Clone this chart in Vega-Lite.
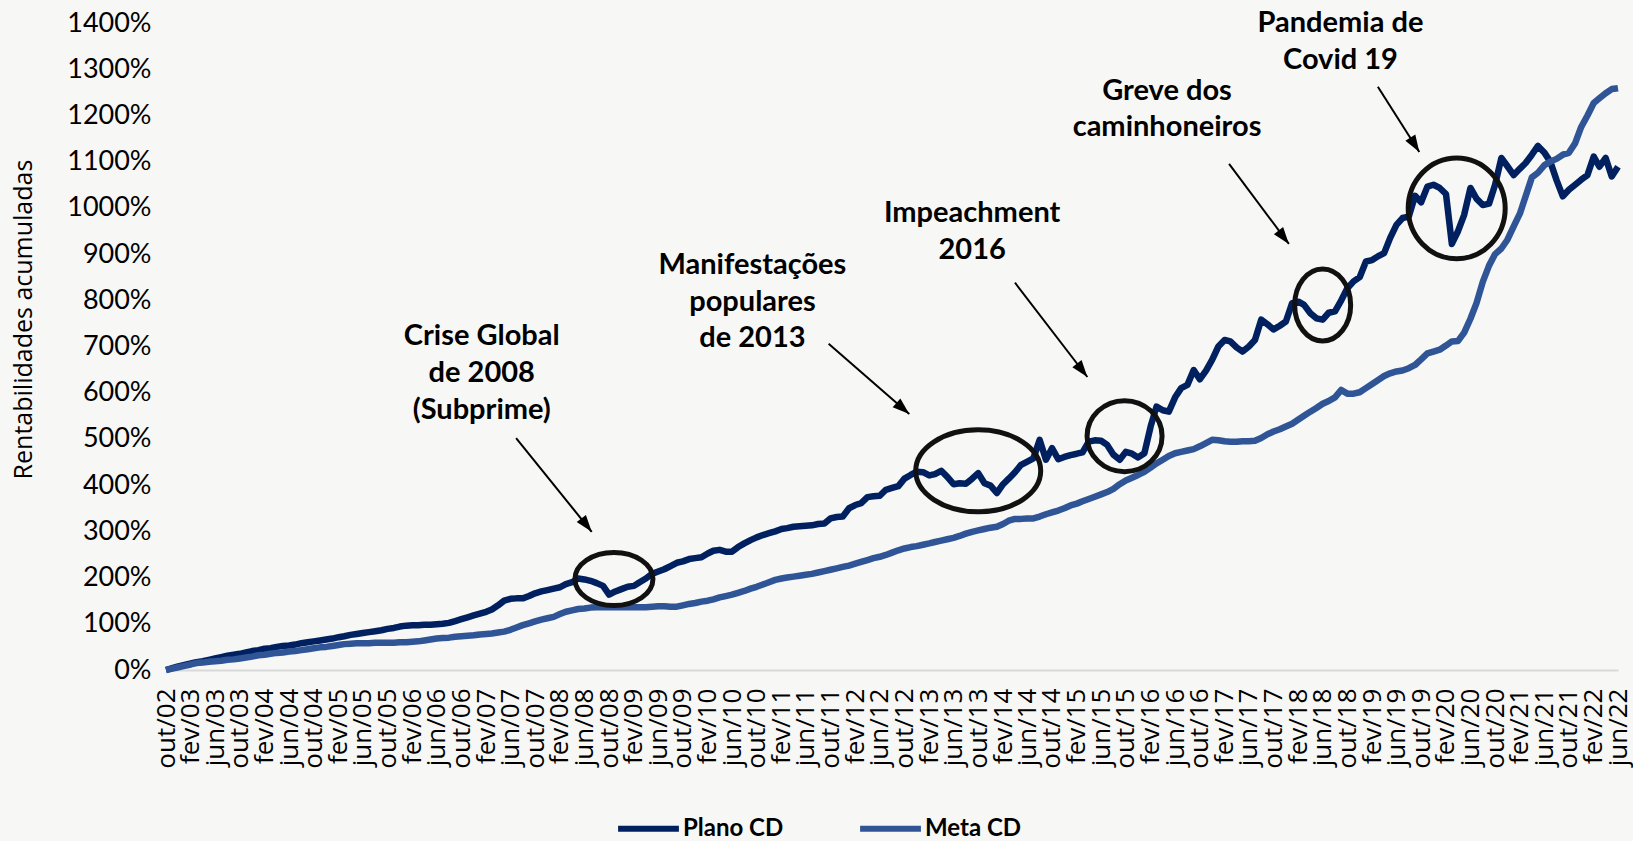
{
"$schema": "https://vega.github.io/schema/vega-lite/v6.json",
"width": 1452, "height": 647,
"autosize": {"type": "none"},
"padding": {"left": 166, "top": 23, "right": 15, "bottom": 171},
"background": "#F7F7F6",
"config": {"view": {"stroke": null}, "font": "Lato", "axis": {"grid": false, "ticks": false}, "axisX": {"labelOverlap": false, "labelFlush": false, "labelBound": false}},
"layer": [
{
"data": {"values": [
{"d":"2002-10","Plano CD":0,"Meta CD":0},{"d":"2002-11","Plano CD":4,"Meta CD":3},{"d":"2002-12","Plano CD":8,"Meta CD":6},
{"d":"2003-01","Plano CD":11,"Meta CD":9},{"d":"2003-02","Plano CD":14,"Meta CD":12},{"d":"2003-03","Plano CD":17,"Meta CD":15},{"d":"2003-04","Plano CD":19,"Meta CD":16},{"d":"2003-05","Plano CD":22,"Meta CD":18},{"d":"2003-06","Plano CD":25,"Meta CD":19},{"d":"2003-07","Plano CD":28,"Meta CD":20},{"d":"2003-08","Plano CD":31,"Meta CD":22},{"d":"2003-09","Plano CD":33,"Meta CD":23},{"d":"2003-10","Plano CD":35,"Meta CD":25},{"d":"2003-11","Plano CD":38,"Meta CD":27},{"d":"2003-12","Plano CD":41,"Meta CD":29},
{"d":"2004-01","Plano CD":43,"Meta CD":32},{"d":"2004-02","Plano CD":46,"Meta CD":33},{"d":"2004-03","Plano CD":47,"Meta CD":35},{"d":"2004-04","Plano CD":50,"Meta CD":37},{"d":"2004-05","Plano CD":52,"Meta CD":38},{"d":"2004-06","Plano CD":53,"Meta CD":40},{"d":"2004-07","Plano CD":55,"Meta CD":41},{"d":"2004-08","Plano CD":58,"Meta CD":43},{"d":"2004-09","Plano CD":60,"Meta CD":45},{"d":"2004-10","Plano CD":62,"Meta CD":47},{"d":"2004-11","Plano CD":64,"Meta CD":49},{"d":"2004-12","Plano CD":66,"Meta CD":50},
{"d":"2005-01","Plano CD":68,"Meta CD":52},{"d":"2005-02","Plano CD":71,"Meta CD":54},{"d":"2005-03","Plano CD":73,"Meta CD":56},{"d":"2005-04","Plano CD":76,"Meta CD":57},{"d":"2005-05","Plano CD":78,"Meta CD":58},{"d":"2005-06","Plano CD":80,"Meta CD":58},{"d":"2005-07","Plano CD":82,"Meta CD":58},{"d":"2005-08","Plano CD":84,"Meta CD":59},{"d":"2005-09","Plano CD":86,"Meta CD":59},{"d":"2005-10","Plano CD":89,"Meta CD":59},{"d":"2005-11","Plano CD":91,"Meta CD":59},{"d":"2005-12","Plano CD":94,"Meta CD":60},
{"d":"2006-01","Plano CD":96,"Meta CD":60},{"d":"2006-02","Plano CD":97,"Meta CD":61},{"d":"2006-03","Plano CD":97,"Meta CD":62},{"d":"2006-04","Plano CD":98,"Meta CD":64},{"d":"2006-05","Plano CD":98,"Meta CD":66},{"d":"2006-06","Plano CD":99,"Meta CD":68},{"d":"2006-07","Plano CD":100,"Meta CD":69},{"d":"2006-08","Plano CD":102,"Meta CD":70},{"d":"2006-09","Plano CD":106,"Meta CD":72},{"d":"2006-10","Plano CD":110,"Meta CD":73},{"d":"2006-11","Plano CD":114,"Meta CD":74},{"d":"2006-12","Plano CD":118,"Meta CD":75},
{"d":"2007-01","Plano CD":122,"Meta CD":77},{"d":"2007-02","Plano CD":126,"Meta CD":78},{"d":"2007-03","Plano CD":131,"Meta CD":79},{"d":"2007-04","Plano CD":140,"Meta CD":81},{"d":"2007-05","Plano CD":150,"Meta CD":83},{"d":"2007-06","Plano CD":154,"Meta CD":87},{"d":"2007-07","Plano CD":155,"Meta CD":92},{"d":"2007-08","Plano CD":155,"Meta CD":97},{"d":"2007-09","Plano CD":160,"Meta CD":101},{"d":"2007-10","Plano CD":166,"Meta CD":105},{"d":"2007-11","Plano CD":170,"Meta CD":109},{"d":"2007-12","Plano CD":173,"Meta CD":112},
{"d":"2008-01","Plano CD":176,"Meta CD":115},{"d":"2008-02","Plano CD":179,"Meta CD":121},{"d":"2008-03","Plano CD":186,"Meta CD":126},{"d":"2008-04","Plano CD":190,"Meta CD":129},{"d":"2008-05","Plano CD":198,"Meta CD":132},{"d":"2008-06","Plano CD":196,"Meta CD":133},{"d":"2008-07","Plano CD":193,"Meta CD":135},{"d":"2008-08","Plano CD":188,"Meta CD":136},{"d":"2008-09","Plano CD":182,"Meta CD":136},{"d":"2008-10","Plano CD":163,"Meta CD":136},{"d":"2008-11","Plano CD":170,"Meta CD":136},{"d":"2008-12","Plano CD":175,"Meta CD":136},
{"d":"2009-01","Plano CD":180,"Meta CD":136},{"d":"2009-02","Plano CD":182,"Meta CD":136},{"d":"2009-03","Plano CD":190,"Meta CD":136},{"d":"2009-04","Plano CD":198,"Meta CD":136},{"d":"2009-05","Plano CD":208,"Meta CD":137},{"d":"2009-06","Plano CD":213,"Meta CD":138},{"d":"2009-07","Plano CD":218,"Meta CD":138},{"d":"2009-08","Plano CD":225,"Meta CD":137},{"d":"2009-09","Plano CD":232,"Meta CD":137},{"d":"2009-10","Plano CD":235,"Meta CD":140},{"d":"2009-11","Plano CD":240,"Meta CD":143},{"d":"2009-12","Plano CD":242,"Meta CD":145},
{"d":"2010-01","Plano CD":244,"Meta CD":148},{"d":"2010-02","Plano CD":252,"Meta CD":150},{"d":"2010-03","Plano CD":258,"Meta CD":153},{"d":"2010-04","Plano CD":260,"Meta CD":157},{"d":"2010-05","Plano CD":256,"Meta CD":160},{"d":"2010-06","Plano CD":256,"Meta CD":163},{"d":"2010-07","Plano CD":266,"Meta CD":167},{"d":"2010-08","Plano CD":274,"Meta CD":171},{"d":"2010-09","Plano CD":281,"Meta CD":176},{"d":"2010-10","Plano CD":287,"Meta CD":180},{"d":"2010-11","Plano CD":292,"Meta CD":185},{"d":"2010-12","Plano CD":296,"Meta CD":190},
{"d":"2011-01","Plano CD":300,"Meta CD":195},{"d":"2011-02","Plano CD":305,"Meta CD":198},{"d":"2011-03","Plano CD":307,"Meta CD":200},{"d":"2011-04","Plano CD":310,"Meta CD":202},{"d":"2011-05","Plano CD":311,"Meta CD":204},{"d":"2011-06","Plano CD":312,"Meta CD":206},{"d":"2011-07","Plano CD":313,"Meta CD":208},{"d":"2011-08","Plano CD":316,"Meta CD":211},{"d":"2011-09","Plano CD":317,"Meta CD":214},{"d":"2011-10","Plano CD":328,"Meta CD":217},{"d":"2011-11","Plano CD":331,"Meta CD":220},{"d":"2011-12","Plano CD":332,"Meta CD":223},
{"d":"2012-01","Plano CD":350,"Meta CD":226},{"d":"2012-02","Plano CD":357,"Meta CD":230},{"d":"2012-03","Plano CD":361,"Meta CD":234},{"d":"2012-04","Plano CD":374,"Meta CD":238},{"d":"2012-05","Plano CD":376,"Meta CD":242},{"d":"2012-06","Plano CD":377,"Meta CD":245},{"d":"2012-07","Plano CD":390,"Meta CD":249},{"d":"2012-08","Plano CD":394,"Meta CD":254},{"d":"2012-09","Plano CD":398,"Meta CD":259},{"d":"2012-10","Plano CD":414,"Meta CD":263},{"d":"2012-11","Plano CD":422,"Meta CD":266},{"d":"2012-12","Plano CD":429,"Meta CD":268},
{"d":"2013-01","Plano CD":428,"Meta CD":271},{"d":"2013-02","Plano CD":421,"Meta CD":274},{"d":"2013-03","Plano CD":424,"Meta CD":277},{"d":"2013-04","Plano CD":431,"Meta CD":280},{"d":"2013-05","Plano CD":418,"Meta CD":283},{"d":"2013-06","Plano CD":402,"Meta CD":286},{"d":"2013-07","Plano CD":404,"Meta CD":290},{"d":"2013-08","Plano CD":403,"Meta CD":295},{"d":"2013-09","Plano CD":414,"Meta CD":299},{"d":"2013-10","Plano CD":426,"Meta CD":302},{"d":"2013-11","Plano CD":404,"Meta CD":305},{"d":"2013-12","Plano CD":399,"Meta CD":308},
{"d":"2014-01","Plano CD":383,"Meta CD":310},{"d":"2014-02","Plano CD":402,"Meta CD":316},{"d":"2014-03","Plano CD":414,"Meta CD":323},{"d":"2014-04","Plano CD":428,"Meta CD":327},{"d":"2014-05","Plano CD":444,"Meta CD":327},{"d":"2014-06","Plano CD":451,"Meta CD":328},{"d":"2014-07","Plano CD":458,"Meta CD":328},{"d":"2014-08","Plano CD":498,"Meta CD":332},{"d":"2014-09","Plano CD":455,"Meta CD":337},{"d":"2014-10","Plano CD":480,"Meta CD":341},{"d":"2014-11","Plano CD":456,"Meta CD":345},{"d":"2014-12","Plano CD":461,"Meta CD":350},
{"d":"2015-01","Plano CD":465,"Meta CD":356},{"d":"2015-02","Plano CD":468,"Meta CD":360},{"d":"2015-03","Plano CD":471,"Meta CD":365},{"d":"2015-04","Plano CD":494,"Meta CD":370},{"d":"2015-05","Plano CD":497,"Meta CD":375},{"d":"2015-06","Plano CD":496,"Meta CD":380},{"d":"2015-07","Plano CD":487,"Meta CD":385},{"d":"2015-08","Plano CD":466,"Meta CD":392},{"d":"2015-09","Plano CD":455,"Meta CD":402},{"d":"2015-10","Plano CD":472,"Meta CD":410},{"d":"2015-11","Plano CD":468,"Meta CD":416},{"d":"2015-12","Plano CD":460,"Meta CD":422},
{"d":"2016-01","Plano CD":469,"Meta CD":429},{"d":"2016-02","Plano CD":527,"Meta CD":438},{"d":"2016-03","Plano CD":570,"Meta CD":447},{"d":"2016-04","Plano CD":562,"Meta CD":455},{"d":"2016-05","Plano CD":559,"Meta CD":463},{"d":"2016-06","Plano CD":590,"Meta CD":469},{"d":"2016-07","Plano CD":610,"Meta CD":472},{"d":"2016-08","Plano CD":617,"Meta CD":475},{"d":"2016-09","Plano CD":649,"Meta CD":478},{"d":"2016-10","Plano CD":629,"Meta CD":484},{"d":"2016-11","Plano CD":648,"Meta CD":491},{"d":"2016-12","Plano CD":671,"Meta CD":498},
{"d":"2017-01","Plano CD":700,"Meta CD":497},{"d":"2017-02","Plano CD":714,"Meta CD":495},{"d":"2017-03","Plano CD":711,"Meta CD":494},{"d":"2017-04","Plano CD":698,"Meta CD":494},{"d":"2017-05","Plano CD":689,"Meta CD":495},{"d":"2017-06","Plano CD":700,"Meta CD":495},{"d":"2017-07","Plano CD":714,"Meta CD":496},{"d":"2017-08","Plano CD":758,"Meta CD":502},{"d":"2017-09","Plano CD":748,"Meta CD":510},{"d":"2017-10","Plano CD":737,"Meta CD":516},{"d":"2017-11","Plano CD":745,"Meta CD":521},{"d":"2017-12","Plano CD":754,"Meta CD":527},
{"d":"2018-01","Plano CD":794,"Meta CD":533},{"d":"2018-02","Plano CD":797,"Meta CD":542},{"d":"2018-03","Plano CD":790,"Meta CD":550},{"d":"2018-04","Plano CD":772,"Meta CD":559},{"d":"2018-05","Plano CD":761,"Meta CD":567},{"d":"2018-06","Plano CD":758,"Meta CD":576},{"d":"2018-07","Plano CD":773,"Meta CD":582},{"d":"2018-08","Plano CD":776,"Meta CD":590},{"d":"2018-09","Plano CD":800,"Meta CD":606},{"d":"2018-10","Plano CD":826,"Meta CD":598},{"d":"2018-11","Plano CD":841,"Meta CD":598},{"d":"2018-12","Plano CD":850,"Meta CD":601},
{"d":"2019-01","Plano CD":884,"Meta CD":610},{"d":"2019-02","Plano CD":887,"Meta CD":619},{"d":"2019-03","Plano CD":895,"Meta CD":627},{"d":"2019-04","Plano CD":902,"Meta CD":636},{"d":"2019-05","Plano CD":935,"Meta CD":642},{"d":"2019-06","Plano CD":963,"Meta CD":646},{"d":"2019-07","Plano CD":978,"Meta CD":648},{"d":"2019-08","Plano CD":981,"Meta CD":653},{"d":"2019-09","Plano CD":1026,"Meta CD":660},{"d":"2019-10","Plano CD":1012,"Meta CD":672},{"d":"2019-11","Plano CD":1046,"Meta CD":685},{"d":"2019-12","Plano CD":1050,"Meta CD":689},
{"d":"2020-01","Plano CD":1043,"Meta CD":693},{"d":"2020-02","Plano CD":1030,"Meta CD":702},{"d":"2020-03","Plano CD":922,"Meta CD":711},{"d":"2020-04","Plano CD":950,"Meta CD":712},{"d":"2020-05","Plano CD":985,"Meta CD":730},{"d":"2020-06","Plano CD":1043,"Meta CD":760},{"d":"2020-07","Plano CD":1020,"Meta CD":794},{"d":"2020-08","Plano CD":1006,"Meta CD":840},{"d":"2020-09","Plano CD":1009,"Meta CD":875},{"d":"2020-10","Plano CD":1050,"Meta CD":900},{"d":"2020-11","Plano CD":1108,"Meta CD":912},{"d":"2020-12","Plano CD":1090,"Meta CD":931},
{"d":"2021-01","Plano CD":1071,"Meta CD":960},{"d":"2021-02","Plano CD":1085,"Meta CD":988},{"d":"2021-03","Plano CD":1097,"Meta CD":1025},{"d":"2021-04","Plano CD":1115,"Meta CD":1066},{"d":"2021-05","Plano CD":1134,"Meta CD":1076},{"d":"2021-06","Plano CD":1120,"Meta CD":1092},{"d":"2021-07","Plano CD":1100,"Meta CD":1100},{"d":"2021-08","Plano CD":1060,"Meta CD":1106},{"d":"2021-09","Plano CD":1025,"Meta CD":1115},{"d":"2021-10","Plano CD":1039,"Meta CD":1119},{"d":"2021-11","Plano CD":1050,"Meta CD":1140},{"d":"2021-12","Plano CD":1061,"Meta CD":1175},
{"d":"2022-01","Plano CD":1071,"Meta CD":1200},{"d":"2022-02","Plano CD":1111,"Meta CD":1227},{"d":"2022-03","Plano CD":1089,"Meta CD":1237},{"d":"2022-04","Plano CD":1108,"Meta CD":1248},{"d":"2022-05","Plano CD":1068,"Meta CD":1257},{"d":"2022-06","Plano CD":1089,"Meta CD":1259}
]},
"transform": [{"fold": ["Plano CD", "Meta CD"], "as": ["serie", "valor"]}],
"mark": {"type": "line", "strokeWidth": 6.5, "strokeJoin": "round"},
"encoding": {
"x": {"field": "d", "type": "temporal",
"scale": {"type": "utc", "nice": false, "domain": [{"year": 2002, "month": 10, "date": 1, "utc": true}, {"year": 2022, "month": 6, "date": 1, "utc": true}]},
"axis": {"title": null, "tickCount": 200, "labelAngle": 270, "labelAlign": "right", "labelBaseline": "middle", "labelFont": "Open Sans", "labelFontSize": 26, "labelColor": "#000000", "labelPadding": 18, "labelOverlap": false, "labelFlush": false, "labelBound": false, "domainColor": "#D9D9D9", "domainWidth": 2, "ticks": false,
"labelExpr": "['jan','fev','mar','abr','mai','jun','jul','ago','set','out','nov','dez'][utcmonth(datum.value)] + '/' + utcFormat(datum.value, '%y')",
"values": [
{"year":2002,"month":10,"date":1,"utc":true},
{"year":2003,"month":2,"date":1,"utc":true},{"year":2003,"month":6,"date":1,"utc":true},{"year":2003,"month":10,"date":1,"utc":true},
{"year":2004,"month":2,"date":1,"utc":true},{"year":2004,"month":6,"date":1,"utc":true},{"year":2004,"month":10,"date":1,"utc":true},
{"year":2005,"month":2,"date":1,"utc":true},{"year":2005,"month":6,"date":1,"utc":true},{"year":2005,"month":10,"date":1,"utc":true},
{"year":2006,"month":2,"date":1,"utc":true},{"year":2006,"month":6,"date":1,"utc":true},{"year":2006,"month":10,"date":1,"utc":true},
{"year":2007,"month":2,"date":1,"utc":true},{"year":2007,"month":6,"date":1,"utc":true},{"year":2007,"month":10,"date":1,"utc":true},
{"year":2008,"month":2,"date":1,"utc":true},{"year":2008,"month":6,"date":1,"utc":true},{"year":2008,"month":10,"date":1,"utc":true},
{"year":2009,"month":2,"date":1,"utc":true},{"year":2009,"month":6,"date":1,"utc":true},{"year":2009,"month":10,"date":1,"utc":true},
{"year":2010,"month":2,"date":1,"utc":true},{"year":2010,"month":6,"date":1,"utc":true},{"year":2010,"month":10,"date":1,"utc":true},
{"year":2011,"month":2,"date":1,"utc":true},{"year":2011,"month":6,"date":1,"utc":true},{"year":2011,"month":10,"date":1,"utc":true},
{"year":2012,"month":2,"date":1,"utc":true},{"year":2012,"month":6,"date":1,"utc":true},{"year":2012,"month":10,"date":1,"utc":true},
{"year":2013,"month":2,"date":1,"utc":true},{"year":2013,"month":6,"date":1,"utc":true},{"year":2013,"month":10,"date":1,"utc":true},
{"year":2014,"month":2,"date":1,"utc":true},{"year":2014,"month":6,"date":1,"utc":true},{"year":2014,"month":10,"date":1,"utc":true},
{"year":2015,"month":2,"date":1,"utc":true},{"year":2015,"month":6,"date":1,"utc":true},{"year":2015,"month":10,"date":1,"utc":true},
{"year":2016,"month":2,"date":1,"utc":true},{"year":2016,"month":6,"date":1,"utc":true},{"year":2016,"month":10,"date":1,"utc":true},
{"year":2017,"month":2,"date":1,"utc":true},{"year":2017,"month":6,"date":1,"utc":true},{"year":2017,"month":10,"date":1,"utc":true},
{"year":2018,"month":2,"date":1,"utc":true},{"year":2018,"month":6,"date":1,"utc":true},{"year":2018,"month":10,"date":1,"utc":true},
{"year":2019,"month":2,"date":1,"utc":true},{"year":2019,"month":6,"date":1,"utc":true},{"year":2019,"month":10,"date":1,"utc":true},
{"year":2020,"month":2,"date":1,"utc":true},{"year":2020,"month":6,"date":1,"utc":true},{"year":2020,"month":10,"date":1,"utc":true},
{"year":2021,"month":2,"date":1,"utc":true},{"year":2021,"month":6,"date":1,"utc":true},{"year":2021,"month":10,"date":1,"utc":true},
{"year":2022,"month":2,"date":1,"utc":true},{"year":2022,"month":6,"date":1,"utc":true}
]}},
"y": {"field": "valor", "type": "quantitative",
"scale": {"domain": [0, 1400], "nice": false},
"axis": {"values": [0,100,200,300,400,500,600,700,800,900,1000,1100,1200,1300,1400], "tickCount": 20, "labelExpr": "datum.value + '%'", "labelFont": "Lato", "labelFontSize": 27, "labelColor": "#000000", "labelPadding": 15, "domain": false, "ticks": false,
"title": "Rentabilidades acumuladas", "titleFont": "Open Sans", "titleFontWeight": "normal", "titleFontSize": 25, "titleColor": "#000000", "titleAngle": -90, "titleX": -143, "titleY": 296, "titleAlign": "center", "titleBaseline": "middle"}},
"color": {"field": "serie", "type": "nominal",
"scale": {"domain": ["Plano CD", "Meta CD"], "range": ["#002060", "#2F5597"]},
"legend": {"title": null, "orient": "none", "legendX": 449, "legendY": 772, "direction": "horizontal", "symbolType": "stroke", "symbolStrokeWidth": 6, "symbolSize": 3700, "labelFont": "Lato", "labelFontWeight": "bold", "labelFontSize": 24, "labelColor": "#000000", "labelOffset": 1, "columnPadding": 64, "padding": 0, "offset": 0}}
}
},
{
"data": {"values": [
{"id":"c","d":"2007-06-29","valor":502,"d2":"2008-07-07","valor2":299},
{"id":"m","d":"2011-09-22","valor":706,"d2":"2012-10-25","valor2":554},
{"id":"i","d":"2014-04-01","valor":838,"d2":"2015-03-25","valor2":634},
{"id":"g","d":"2017-02-23","valor":1095,"d2":"2017-12-16","valor2":922},
{"id":"p","d":"2019-03-01","valor":1262,"d2":"2019-09-22","valor2":1121}
]},
"layer": [
{"mark": {"type": "rule", "color": "#000000", "strokeWidth": 2},
"encoding": {"x": {"field": "d", "type": "temporal"}, "y": {"field": "valor", "type": "quantitative"}, "x2": {"field": "d2"}, "y2": {"field": "valor2"}}},
{"transform": [{"filter": "datum.id == 'c' || datum.id == 'i' || datum.id == 'g'"}],
"mark": {"type": "point", "shape": "M0,0L0.45,1.3L-0.45,1.3Z", "filled": true, "color": "#000000", "opacity": 1, "size": 676, "angle": 142},
"encoding": {"x": {"field": "d2", "type": "temporal"}, "y": {"field": "valor2", "type": "quantitative"}}},
{"transform": [{"filter": "datum.id == 'm'"}],
"mark": {"type": "point", "shape": "M0,0L0.45,1.3L-0.45,1.3Z", "filled": true, "color": "#000000", "opacity": 1, "size": 676, "angle": 131},
"encoding": {"x": {"field": "d2", "type": "temporal"}, "y": {"field": "valor2", "type": "quantitative"}}},
{"transform": [{"filter": "datum.id == 'p'"}],
"mark": {"type": "point", "shape": "M0,0L0.45,1.3L-0.45,1.3Z", "filled": true, "color": "#000000", "opacity": 1, "size": 676, "angle": 148},
"encoding": {"x": {"field": "d2", "type": "temporal"}, "y": {"field": "valor2", "type": "quantitative"}}}
]
},
{
"data": {"values": [
{"id":"c","d":"2008-10-25","valor":197},
{"id":"m","d":"2013-10-01","valor":431},
{"id":"i","d":"2015-09-25","valor":506},
{"id":"g","d":"2018-06-01","valor":790},
{"id":"p","d":"2020-03-25","valor":999}
]},
"encoding": {
"x": {"field": "d", "type": "temporal"},
"y": {"field": "valor", "type": "quantitative"}
},
"layer": [
{"transform": [{"filter": "datum.id == 'c'"}], "mark": {"type": "point", "filled": false, "stroke": "#111111", "strokeWidth": 5, "opacity": 1, "shape": "M-1,0A1,0.68 0 1,0 1,0A1,0.68 0 1,0 -1,0Z", "size": 6084}},
{"transform": [{"filter": "datum.id == 'm'"}], "mark": {"type": "point", "filled": false, "stroke": "#111111", "strokeWidth": 5, "opacity": 1, "shape": "M-1,0A1,0.656 0 1,0 1,0A1,0.656 0 1,0 -1,0Z", "size": 15625}},
{"transform": [{"filter": "datum.id == 'i'"}], "mark": {"type": "point", "filled": false, "stroke": "#111111", "strokeWidth": 5, "opacity": 1, "shape": "M-1,0A1,0.947 0 1,0 1,0A1,0.947 0 1,0 -1,0Z", "size": 5625}},
{"transform": [{"filter": "datum.id == 'g'"}], "mark": {"type": "point", "filled": false, "stroke": "#111111", "strokeWidth": 5, "opacity": 1, "shape": "M-1,0A1,1.286 0 1,0 1,0A1,1.286 0 1,0 -1,0Z", "size": 3136}},
{"transform": [{"filter": "datum.id == 'p'"}], "mark": {"type": "point", "filled": false, "stroke": "#111111", "strokeWidth": 5, "opacity": 1, "shape": "M-1,0A1,1.04 0 1,0 1,0A1,1.04 0 1,0 -1,0Z", "size": 9409}}
]
},
{
"data": {"values": [
{"d":"2007-01-10","valor":723,"t":"Crise Global"},
{"d":"2007-01-10","valor":643,"t":"de 2008"},
{"d":"2007-01-10","valor":563,"t":"(Subprime)"},
{"d":"2010-09-10","valor":877,"t":"Manifestações"},
{"d":"2010-09-10","valor":797,"t":"populares"},
{"d":"2010-09-10","valor":719,"t":"de 2013"},
{"d":"2013-09-01","valor":989,"t":"Impeachment"},
{"d":"2013-09-01","valor":909,"t":"2016"},
{"d":"2016-04-22","valor":1253,"t":"Greve dos"},
{"d":"2016-04-22","valor":1175,"t":"caminhoneiros"},
{"d":"2018-08-28","valor":1400,"t":"Pandemia de"},
{"d":"2018-08-28","valor":1320,"t":"Covid 19"}
]},
"mark": {"type": "text", "font": "Lato", "fontWeight": "bold", "fontSize": 29, "color": "#000000", "align": "center", "baseline": "middle"},
"encoding": {
"x": {"field": "d", "type": "temporal"},
"y": {"field": "valor", "type": "quantitative"},
"text": {"field": "t"}
}
}
]
}
